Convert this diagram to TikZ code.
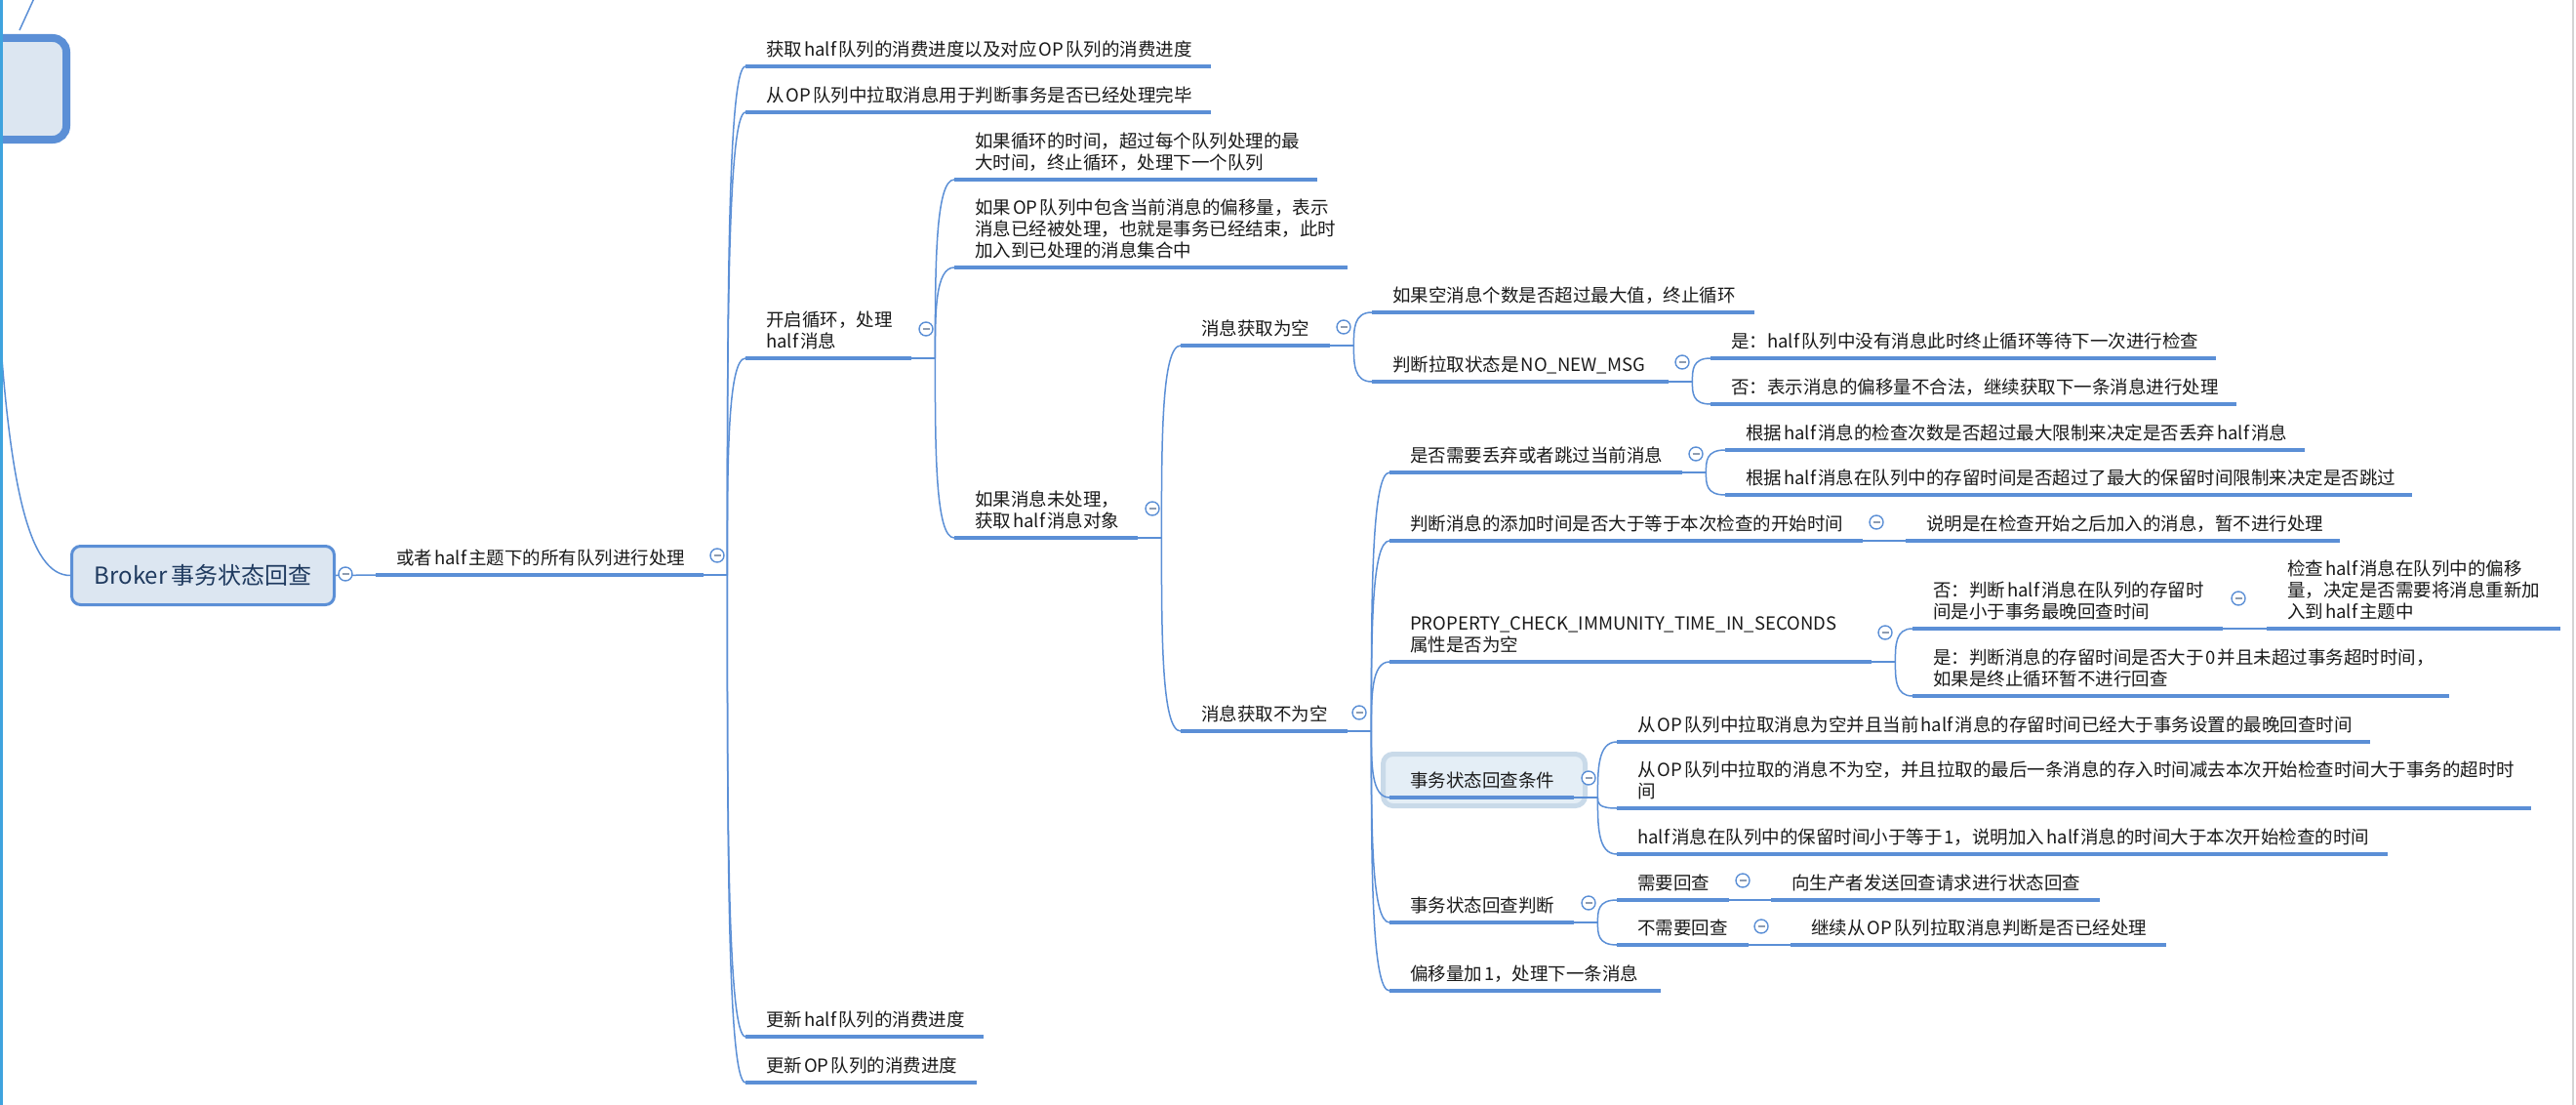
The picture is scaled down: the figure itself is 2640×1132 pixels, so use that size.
\documentclass[tikz,border=0pt]{standalone}
\usepackage{fontspec}
\setmainfont{Noto Sans CJK SC}
\usetikzlibrary{calc}
\definecolor{lblue}{HTML}{5B8FD6}
\definecolor{rootfill}{HTML}{DCE6F1}
\definecolor{roottext}{HTML}{1F3A5F}
\definecolor{hlfill}{HTML}{E4EEF6}
\definecolor{hldraw}{HTML}{C9DAE9}
\definecolor{stripe}{HTML}{3FA3DE}
\definecolor{dashc}{HTML}{8E9CB0}
\definecolor{txt}{HTML}{1A1A1A}
\definecolor{edgegray}{HTML}{D4D4D4}
\newcommand\topicfont{\fontsize{18.5pt}{22pt}\selectfont}
\newcommand\rootfont{\fontsize{24pt}{28pt}\selectfont}
\newcommand\gp{\kern2pt}
\tikzset{
  topic/.style={anchor=south west, inner xsep=21pt, inner ysep=10pt, text depth=0pt, align=left, font=\topicfont, text=txt},
  twolines/.style={text depth=22pt},
  threelines/.style={text depth=44pt},
  uline/.style={draw=lblue, line width=4.5pt},
  conn/.style={draw=lblue, line width=1.5pt},
  br/.style={to path={.. controls ($(\tikztostart)!0.5!(\tikztostart|-\tikztotarget)$) and (\tikztostart|-\tikztotarget) .. (\tikztotarget)}},
  coll/.style={circle, draw=lblue, fill=white, line width=1.4pt, minimum size=14pt, inner sep=0pt,
    path picture={\draw[dashc, line width=1.3pt] ([xshift=-3.5pt]path picture bounding box.center) -- ([xshift=3.5pt]path picture bounding box.center);}},
  rootbox/.style={draw=lblue, fill=rootfill, line width=3pt, rounded corners=9pt, minimum width=269pt, minimum height=60pt, inner sep=0pt, font=\rootfont, text=roottext},
  hlbox/.style={draw=hldraw, fill=hlfill, line width=5pt, rounded corners=10pt, minimum width=207pt, minimum height=53pt, inner sep=0pt},
}
\begin{document}
\begin{tikzpicture}[x=1pt, y=-1pt]
\clip (0,0) rectangle (2640,1132);
\fill[white] (0,0) rectangle (2640,1132);

% partial box at top-left and incoming lines
\node[draw=lblue, fill=rootfill, line width=8pt, rounded corners=14pt, minimum width=128pt, minimum height=104pt, inner sep=0pt] (prev) at (4,91) {};
\coordinate (topin) at (36,-4);
\coordinate (leftin) at (-3,290);

% highlight box behind 事务状态回查条件
\node[hlbox] (hl) at (1521,799) {};

% root
\node[rootbox] (root) at (208,589.5) {Broker\kern4pt 事务状态回查};

% level 1
\node[topic, text width=294pt] (n0) at (385,589) {或者\gp half\gp 主题下的所有队列进行处理};

% level 2
\node[topic, text width=435pt] (n1) at (764,68) {获取\gp half\gp 队列的消费进度以及对应\gp OP\gp 队列的消费进度};
\node[topic, text width=435pt] (n2) at (764,115) {从\gp OP\gp 队列中拉取消息用于判断事务是否已经处理完毕};
\node[topic, twolines, text width=128pt] (n3) at (764,367) {开启循环，处理\\half\gp 消息};
\node[topic, text width=202pt] (n4) at (764,1062) {更新\gp half\gp 队列的消费进度};
\node[topic, text width=195pt] (n5) at (764,1109) {更新\gp OP\gp 队列的消费进度};

% level 3
\node[topic, twolines, text width=330pt] (n31) at (978,184) {如果循环的时间，超过每个队列处理的最\\大时间，终止循环，处理下一个队列};
\node[topic, threelines, text width=361pt] (n32) at (978,274) {如果\gp OP\gp 队列中包含当前消息的偏移量，表示\\消息已经被处理，也就是事务已经结束，此时\\加入到已处理的消息集合中};
\node[topic, twolines, text width=146pt] (n33) at (978,551) {如果消息未处理，\\获取\gp half\gp 消息对象};

% level 4
\node[topic, text width=111pt] (n41) at (1210,354) {消息获取为空};
\node[topic, text width=129pt] (n42) at (1210,749) {消息获取不为空};

% level 5 (empty)
\node[topic, text width=350pt] (n411) at (1406,320) {如果空消息个数是否超过最大值，终止循环};
\node[topic, text width=262pt] (n412) at (1406,391) {判断拉取状态是\gp NO\_NEW\_MSG};
\node[topic, text width=476pt] (n4121) at (1753,367) {是：half\gp 队列中没有消息此时终止循环等待下一次进行检查};
\node[topic, text width=497pt] (n4122) at (1753,414) {否：表示消息的偏移量不合法，继续获取下一条消息进行处理};

% level 5 (not empty)
\node[topic, text width=258pt] (n421) at (1424,484) {是否需要丢弃或者跳过当前消息};
\node[topic, text width=443pt] (n422) at (1424,554) {判断消息的添加时间是否大于等于本次检查的开始时间};
\node[topic, twolines, text width=452pt] (n423) at (1424,678) {PROPERTY\_CHECK\_IMMUNITY\_TIME\_IN\_SECONDS\\属性是否为空};
\node[topic, text width=147pt] (n424) at (1424,817) {事务状态回查条件};
\node[topic, text width=147pt] (n425) at (1424,945) {事务状态回查判断};
\node[topic, text width=236pt] (n426) at (1424,1015) {偏移量加\gp 1，处理下一条消息};

% level 6
\node[topic, text width=552pt] (n4211) at (1768,461) {根据\gp half\gp 消息的检查次数是否超过最大限制来决定是否丢弃\gp half\gp 消息};
\node[topic, text width=662pt] (n4212) at (1768,507) {根据\gp half\gp 消息在队列中的存留时间是否超过了最大的保留时间限制来决定是否跳过};
\node[topic, text width=403pt] (n4221) at (1953,554) {说明是在检查开始之后加入的消息，暂不进行处理};
\node[topic, twolines, text width=276pt] (n4231) at (1960,644) {否：判断\gp half\gp 消息在队列的存留时\\间是小于事务最晚回查时间};
\node[topic, twolines, text width=508pt] (n4232) at (1960,713) {是：判断消息的存留时间是否大于\gp 0\gp 并且未超过事务超时时间，\\如果是终止循环暂不进行回查};
\node[topic, threelines, text width=259pt] (n42311) at (2323,644) {检查\gp half\gp 消息在队列中的偏移\\量，决定是否需要将消息重新加\\入到\gp half\gp 主题中};
\node[topic, text width=730pt] (n4241) at (1657,760) {从\gp OP\gp 队列中拉取消息为空并且当前\gp half\gp 消息的存留时间已经大于事务设置的最晚回查时间};
\node[topic, twolines, text width=895pt] (n4242) at (1657,828) {从\gp OP\gp 队列中拉取的消息不为空，并且拉取的最后一条消息的存入时间减去本次开始检查时间大于事务的超时时\\间};
\node[topic, text width=748pt] (n4243) at (1657,875) {half\gp 消息在队列中的保留时间小于等于\gp 1，说明加入\gp half\gp 消息的时间大于本次开始检查的时间};
\node[topic, text width=73pt] (n4251) at (1657,922) {需要回查};
\node[topic, text width=93pt] (n4252) at (1657,968) {不需要回查};
\node[topic, text width=295pt] (n42511) at (1815,922) {向生产者发送回查请求进行状态回查};
\node[topic, text width=343pt] (n42521) at (1835,968) {继续从\gp OP\gp 队列拉取消息判断是否已经处理};

% junctions
\foreach \n in {n0,n3,n33,n41,n412,n42,n421,n423,n424,n425}
  \coordinate (j\n) at ([xshift=24pt]\n.south east);

% connectors
\draw[conn] (topin) -- ([xshift=16pt,yshift=4pt]prev.north);
\draw[conn] (leftin) .. controls (8,500) and (30,589.5) .. (root.west);
\draw[conn] (root.east) -- (n0.south west);
\foreach \p/\cs in {n0/{n1,n2,n3,n4,n5}, n3/{n31,n32,n33}, n33/{n41,n42}, n41/{n411,n412}, n412/{n4121,n4122}, n42/{n421,n422,n423,n424,n425,n426}, n421/{n4211,n4212}, n423/{n4231,n4232}, n424/{n4241,n4242,n4243}, n425/{n4251,n4252}}{
  \draw[conn] (\p.south east) -- (j\p);
  \foreach \c in \cs
    \draw[conn] (j\p) to[br] (\c.south west);
}
\draw[conn] (n422.south east) -- (n4221.south west);
\draw[conn] (n4231.south east) -- (n42311.south west);
\draw[conn] (n4251.south east) -- (n42511.south west);
\draw[conn] (n4252.south east) -- (n42521.south west);

% underlines
\foreach \n in {n0,n1,n2,n3,n4,n5,n31,n32,n33,n41,n42,n411,n412,n4121,n4122,n421,n422,n423,n424,n425,n426,n4211,n4212,n4221,n4231,n4232,n42311,n4241,n4242,n4243,n4251,n4252,n42511,n42521}
  \draw[uline] (\n.south west) -- (\n.south east);

% collapse markers
\node[coll] (k0) at (354,588) {};
\node[coll] (k1) at (735,569) {};
\node[coll] (k2) at (949,337) {};
\node[coll] (k3) at (1181,521) {};
\node[coll] (k4) at (1377,335) {};
\node[coll] (k5) at (1724,371) {};
\node[coll] (k6) at (1393,730) {};
\node[coll] (k7) at (1738,465) {};
\node[coll] (k8) at (1923,535) {};
\node[coll] (k9) at (1932,648) {};
\node[coll] (k10) at (2294,613) {};
\node[coll] (k11) at (1628,797) {};
\node[coll] (k12) at (1628,925) {};
\node[coll] (k13) at (1786,902) {};
\node[coll] (k14) at (1805,949) {};

% window edges
\fill[stripe] (0,0) rectangle (2.5,1132);
\draw[edgegray, line width=1.5pt] (2637,0) -- (2637,1132);
\end{tikzpicture}
\end{document}
